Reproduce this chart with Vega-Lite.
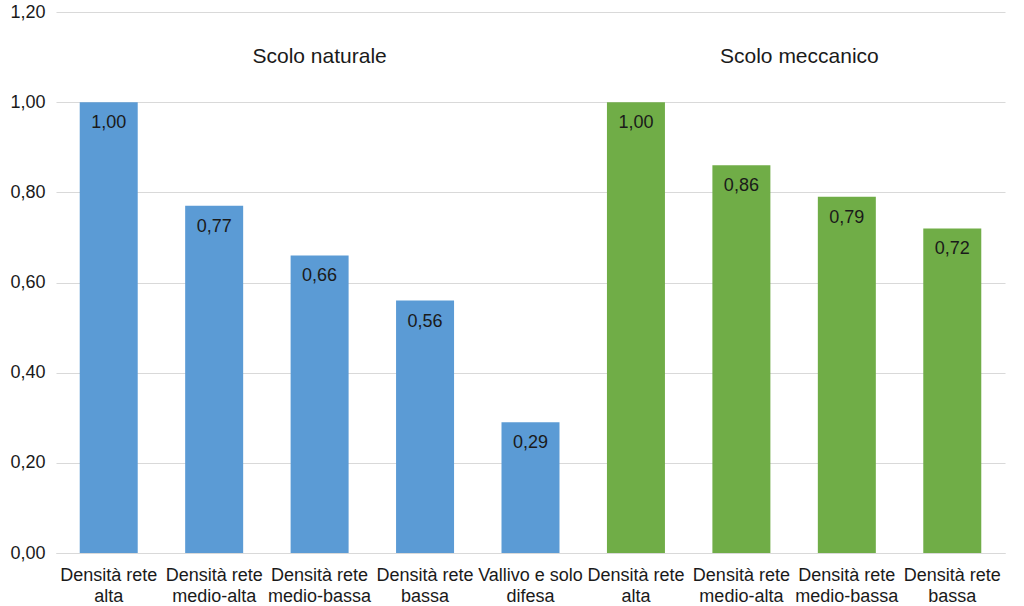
{
  "$schema": "https://vega.github.io/schema/vega-lite/v6.json",
  "autosize": {"type": "none"},
  "width": 949,
  "height": 541,
  "padding": {"left": 56, "top": 12, "right": 19, "bottom": 53},
  "background": "white",
  "config": {
    "locale": {"number": {"decimal": ",", "thousands": ".", "grouping": [3], "currency": ["€", ""]}},
    "font": "Liberation Sans",
    "view": {"stroke": null}
  },
  "data": {
    "values": [
      {"cat": "1|Densità rete|alta", "group": "Scolo naturale", "value": 1.00},
      {"cat": "2|Densità rete|medio-alta", "group": "Scolo naturale", "value": 0.77},
      {"cat": "3|Densità rete|medio-bassa", "group": "Scolo naturale", "value": 0.66},
      {"cat": "4|Densità rete|bassa", "group": "Scolo naturale", "value": 0.56},
      {"cat": "5|Vallivo e solo|difesa", "group": "Scolo naturale", "value": 0.29},
      {"cat": "6|Densità rete|alta", "group": "Scolo meccanico", "value": 1.00},
      {"cat": "7|Densità rete|medio-alta", "group": "Scolo meccanico", "value": 0.86},
      {"cat": "8|Densità rete|medio-bassa", "group": "Scolo meccanico", "value": 0.79},
      {"cat": "9|Densità rete|bassa", "group": "Scolo meccanico", "value": 0.72}
    ]
  },
  "encoding": {
    "x": {
      "field": "cat", "type": "nominal", "sort": null, "title": null,
      "scale": {"paddingInner": 0.45, "paddingOuter": 0.225},
      "axis": {
        "labelAngle": 0, "labelFontSize": 18, "labelColor": "#1a1a1a",
        "labelExpr": "slice(split(datum.value, '|'), 1)",
        "labelLineHeight": 21, "labelPadding": 13,
        "ticks": false, "domainColor": "#d9d9d9", "domainWidth": 1
      }
    }
  },
  "layer": [
    {
      "mark": {"type": "bar"},
      "encoding": {
        "y": {
          "field": "value", "type": "quantitative", "title": null,
          "scale": {"domain": [0, 1.2]},
          "axis": {
            "values": [0, 0.2, 0.4, 0.6, 0.8, 1.0, 1.2], "format": ".2f",
            "labelFontSize": 18, "labelColor": "#1a1a1a", "labelPadding": 11,
            "domain": false, "ticks": false, "gridColor": "#d9d9d9", "gridWidth": 1
          }
        },
        "color": {
          "field": "group", "type": "nominal", "legend": null,
          "scale": {"domain": ["Scolo naturale", "Scolo meccanico"], "range": ["#5b9bd5", "#70ad47"]}
        }
      }
    },
    {
      "mark": {"type": "text", "fontSize": 18, "color": "#1a1a1a", "baseline": "middle", "dy": 21},
      "encoding": {
        "y": {"field": "value", "type": "quantitative"},
        "text": {"field": "value", "type": "quantitative", "format": ".2f"}
      }
    },
    {
      "data": {"values": [
        {"cat": "3|Densità rete|medio-bassa", "title": "Scolo naturale", "pos": 1.1}
      ]},
      "mark": {"type": "text", "fontSize": 21, "color": "#1a1a1a", "baseline": "middle"},
      "encoding": {
        "y": {"field": "pos", "type": "quantitative"},
        "text": {"field": "title"}
      }
    },
    {
      "data": {"values": [
        {"cat": "7|Densità rete|medio-alta", "title": "Scolo meccanico", "pos": 1.1}
      ]},
      "mark": {"type": "text", "fontSize": 21, "color": "#1a1a1a", "baseline": "middle", "dx": 58},
      "encoding": {
        "y": {"field": "pos", "type": "quantitative"},
        "text": {"field": "title"}
      }
    }
  ]
}
